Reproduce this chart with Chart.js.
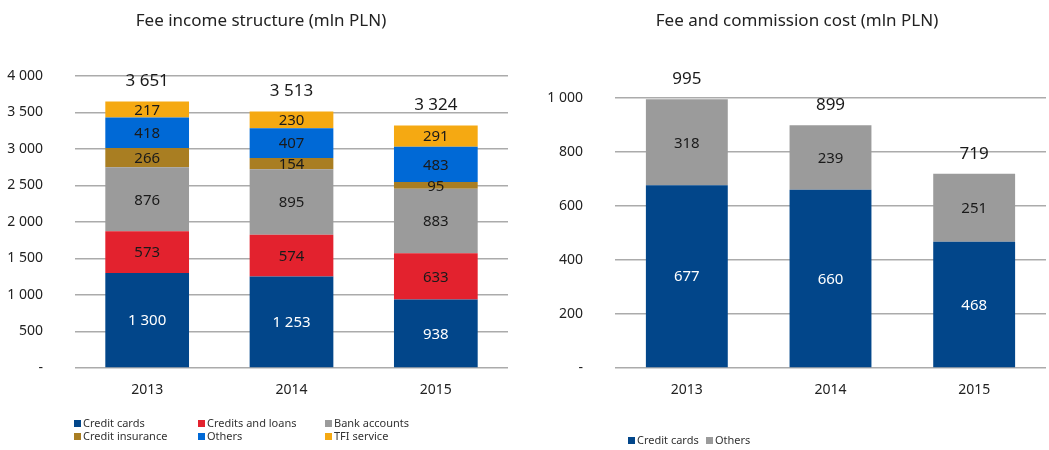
<!DOCTYPE html>
<html>
<head>
<meta charset="utf-8">
<script src="https://cdn.jsdelivr.net/npm/chart.js@4/dist/chart.umd.min.js"></script>
<style>
  body { margin: 0; background: #fff; font-family: "Noto Sans", sans-serif; }
  #wrap { position: relative; width: 1049px; height: 450px; overflow: hidden; }
  .box { position: absolute; top: 0; height: 450px; }
  .title { position: absolute; top: 8px; font-size: 17px; color: #222; white-space: nowrap; transform: translateX(-50%); }
  .leg { position: absolute; font-size: 11px; color: #333; white-space: nowrap; line-height: 13px; }
  .leg i { display: inline-block; width: 7px; height: 7px; margin-right: 2px; vertical-align: 0px; }
</style>
</head>
<body>
<div id="wrap">
  <div class="box" style="left:0;width:530px"><canvas id="incomeChart" width="530" height="450"></canvas></div>
  <div class="box" style="left:530px;width:519px"><canvas id="costChart" width="519" height="450"></canvas></div>
  <div class="title" style="left:261px">Fee income structure (mln PLN)</div>
  <div class="title" style="left:797px">Fee and commission cost (mln PLN)</div>
  <div id="legIncome"></div>
  <div id="legCost"></div>
</div>
<script>
// categories
var years = ['2013', '2014', '2015'];

// fee income structure (mln PLN)
var creditCards = [1300, 1253, 938];
var creditsLoans = [573, 574, 633];
var bankAccounts = [876, 895, 883];
var creditInsurance = [266, 154, 95];
var others = [418, 407, 483];
var tfiService = [217, 230, 291];
var incomeTotals = [3651, 3513, 3324];

// fee and commission cost (mln PLN)
var costCards = [677, 660, 468];
var costOthers = [318, 239, 251];
var costTotals = [995, 899, 719];

var colors = {
  cards: '#02468A',
  loans: '#E3222E',
  accounts: '#9B9B9B',
  insurance: '#A97E22',
  others: '#0069D6',
  tfi: '#F5A912'
};

function fmt(v) {
  if (v === 0) return '-';
  return String(v).replace(/\B(?=(\d{3})+(?!\d))/g, ' ');
}

// draws the numbers inside segments and the totals on top
var barLabels = {
  id: 'barLabels',
  afterDatasetsDraw: function(chart, args, opts) {
    var ctx = chart.ctx;
    ctx.save();
    ctx.textAlign = 'center';
    ctx.textBaseline = 'middle';
    ctx.font = '15px "Noto Sans"';
    chart.data.datasets.forEach(function(ds, i) {
      var meta = chart.getDatasetMeta(i);
      meta.data.forEach(function(bar, j) {
        ctx.fillStyle = i === 0 ? '#ffffff' : '#1a1a1a';
        ctx.fillText(fmt(ds.data[j]), bar.x, (bar.y + bar.base) / 2 + 1);
      });
    });
    var last = chart.getDatasetMeta(chart.data.datasets.length - 1);
    ctx.font = '17px "Noto Sans"';
    ctx.fillStyle = '#1a1a1a';
    last.data.forEach(function(bar, j) {
      ctx.fillText(fmt(opts.totals[j]), bar.x, bar.y - 20);
    });
    ctx.restore();
  }
};

function makeOptions(yMax, yStep, yWidth, padTop, padRight, totals) {
  return {
    responsive: false,
    animation: false,
    layout: { padding: { top: padTop, right: padRight, bottom: 52, left: 0 } },
    plugins: {
      legend: { display: false },
      tooltip: { enabled: false },
      barLabels: { totals: totals }
    },
    scales: {
      x: {
        stacked: true,
        grid: { display: false },
        border: { display: false },
        ticks: { color: '#222', font: { family: 'Noto Sans', size: 14 }, padding: 6 },
        afterFit: function(s) { s.height = 30; }
      },
      y: {
        stacked: true,
        min: 0,
        max: yMax,
        ticks: {
          stepSize: yStep,
          color: '#222',
          padding: 32,
          font: { family: 'Noto Sans', size: 14 },
          callback: function(v) { return fmt(v); }
        },
        grid: { color: '#ABABAB', lineWidth: 1.5, drawTicks: false },
        border: { display: false },
        afterFit: function(s) { s.width = yWidth; }
      }
    }
  };
}

new Chart(document.getElementById('incomeChart'), {
  type: 'bar',
  data: {
    labels: years,
    datasets: [
      { label: 'Credit cards', data: creditCards, backgroundColor: colors.cards },
      { label: 'Credits and loans', data: creditsLoans, backgroundColor: colors.loans },
      { label: 'Bank accounts', data: bankAccounts, backgroundColor: colors.accounts },
      { label: 'Credit insurance', data: creditInsurance, backgroundColor: colors.insurance },
      { label: 'Others', data: others, backgroundColor: colors.others },
      { label: 'TFI service', data: tfiService, backgroundColor: colors.tfi }
    ].map(function(d) { d.categoryPercentage = 1; d.barPercentage = 0.58; return d; })
  },
  options: makeOptions(4000, 500, 75, 76, 22, incomeTotals),
  plugins: [barLabels]
});

new Chart(document.getElementById('costChart'), {
  type: 'bar',
  data: {
    labels: years,
    datasets: [
      { label: 'Credit cards', data: costCards, backgroundColor: colors.cards },
      { label: 'Others', data: costOthers, backgroundColor: colors.accounts }
    ].map(function(d) { d.categoryPercentage = 1; d.barPercentage = 0.57; return d; })
  },
  options: makeOptions(1000, 200, 85, 98, 3, costTotals),
  plugins: [barLabels]
});

// legends
function legendItem(left, top, color, text) {
  return '<div class="leg" style="left:' + left + 'px;top:' + top + 'px"><i style="background:' + color + '"></i>' + text + '</div>';
}
document.getElementById('legIncome').innerHTML =
  legendItem(74, 416, colors.cards, 'Credit cards') +
  legendItem(198, 416, colors.loans, 'Credits and loans') +
  legendItem(325, 416, colors.accounts, 'Bank accounts') +
  legendItem(74, 429, colors.insurance, 'Credit insurance') +
  legendItem(198, 429, colors.others, 'Others') +
  legendItem(325, 429, colors.tfi, 'TFI service');
document.getElementById('legCost').innerHTML =
  legendItem(628, 433, colors.cards, 'Credit cards') +
  legendItem(706, 433, colors.accounts, 'Others');
</script>
</body>
</html>
